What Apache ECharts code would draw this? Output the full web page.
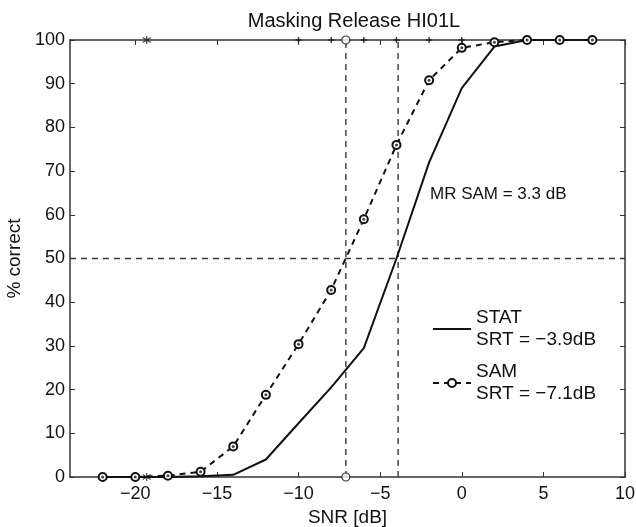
<!DOCTYPE html>
<html>
<head>
<meta charset="utf-8">
<script src="https://cdn.jsdelivr.net/npm/echarts@6/dist/echarts.min.js"></script>
<style>
  html, body { margin: 0; padding: 0; background: #fff; }
  #chart { width: 636px; height: 527px; }
</style>
</head>
<body>
<div id="chart"></div>
<script>
// SNR levels (dB) and percent correct
const snr = [-22, -20, -18, -16, -14, -12, -10, -8, -6, -4, -2, 0, 2, 4, 6, 8];
const samPct = [0, 0, 0.3, 1.2, 7, 18.8, 30.4, 42.8, 59, 76, 90.8, 98.2, 99.5, 100, 100, 100];
const statPct = [0, 0, 0, 0.2, 0.5, 4, 12.3, 20.5, 29.5, 50, 72, 89, 98.5, 100, 100, 100];
// speech reception thresholds
const srtStat = -3.9;
const srtSam = -7.1;
// trial marks along the top / bottom edge
const topMarks = [-10, -8, -6, -4, -2, 0];
const starMarks = [[-19.3, 100], [-19.3, 0]];
const xTicks = [-20, -15, -10, -5, 0, 5, 10];
const yTicks = [0, 10, 20, 30, 40, 50, 60, 70, 80, 90, 100];

const font = '"Liberation Sans", Arial, sans-serif';
const ink = '#111';
const axisCol = '#333';

const chart = echarts.init(document.getElementById('chart'));

const pairs = (xs, ys) => xs.map((x, i) => [x, ys[i]]);
const minus = v => String(v).replace('-', '\u2212');

const legendNames = {
    'STAT': 'STAT\nSRT = \u22123.9dB',
    'SAM': 'SAM\nSRT = \u22127.1dB'
};

const refLine = {
    color: '#3a3a3a',
    width: 1.4,
    type: [6, 5]
};

const option = {
    animation: false,
    backgroundColor: '#fff',
    title: {
        text: 'Masking Release HI01L',
        left: 349,
        textAlign: 'center',
        top: 6,
        textStyle: { fontFamily: font, fontSize: 20, fontWeight: 'normal', color: ink }
    },
    grid: { left: 70, right: 11, top: 40, bottom: 50, containLabel: false, outerBoundsMode: 'none' },
    legend: {
        orient: 'vertical',
        left: 427,
        top: 302,
        itemWidth: 38,
        itemHeight: 10,
        itemGap: 10,
        data: [{ name: 'STAT', itemStyle: { opacity: 0 } }, 'SAM'],
        formatter: n => legendNames[n],
        textStyle: { fontFamily: font, fontSize: 19, lineHeight: 22, color: ink }
    },
    graphic: [{
        type: 'text',
        left: 430,
        top: 186,
        style: { text: 'MR SAM = 3.3 dB', fontFamily: font, fontSize: 17, fill: ink }
    }],
    xAxis: [{
        type: 'value',
        min: -24,
        max: 10,
        name: 'SNR [dB]',
        nameLocation: 'middle',
        nameGap: 26,
        nameTextStyle: { fontFamily: font, fontSize: 19, color: ink },
        axisLine: { onZero: false, lineStyle: { color: axisCol, width: 1.5 } },
        axisTick: { inside: true, length: 5, customValues: xTicks, lineStyle: { color: axisCol } },
        axisLabel: { customValues: xTicks, formatter: minus, fontFamily: font, fontSize: 18, color: ink, margin: 8 },
        splitLine: { show: false }
    }, {
        type: 'value',
        position: 'top',
        min: -24,
        max: 10,
        axisLine: { onZero: false, lineStyle: { color: axisCol, width: 1.5 } },
        axisTick: { inside: true, length: 5, customValues: xTicks, lineStyle: { color: axisCol } },
        axisLabel: { show: false },
        splitLine: { show: false }
    }],
    yAxis: [{
        type: 'value',
        min: 0,
        max: 100,
        interval: 10,
        name: '% correct',
        nameLocation: 'middle',
        nameGap: 41,
        nameTextStyle: { fontFamily: font, fontSize: 19, color: ink },
        axisLine: { show: true, onZero: false, lineStyle: { color: axisCol, width: 1.5 } },
        axisTick: { show: true, inside: true, length: 5, customValues: yTicks, lineStyle: { color: axisCol } },
        axisLabel: { fontFamily: font, fontSize: 18, color: ink, margin: 5 },
        splitLine: { show: false }
    }, {
        type: 'value',
        position: 'right',
        min: 0,
        max: 100,
        interval: 10,
        axisLine: { show: true, onZero: false, lineStyle: { color: axisCol, width: 1.5 } },
        axisTick: { show: true, inside: true, length: 5, lineStyle: { color: axisCol } },
        axisLabel: { show: false },
        splitLine: { show: false }
    }],
    series: [
        {
            name: '50%',
            type: 'line',
            symbol: 'none',
            silent: true,
            lineStyle: refLine,
            data: [[-24, 50], [10, 50]]
        },
        {
            name: 'srt sam',
            type: 'line',
            symbol: 'none',
            silent: true,
            lineStyle: refLine,
            data: [[srtSam, 0], [srtSam, 100]]
        },
        {
            name: 'srt stat',
            type: 'line',
            symbol: 'none',
            silent: true,
            lineStyle: refLine,
            data: [[srtStat, 0], [srtStat, 100]]
        },
        {
            name: 'STAT',
            type: 'line',
            symbol: 'none',
            lineStyle: { color: ink, width: 2 },
            itemStyle: { color: ink },
            data: pairs(snr, statPct),
            z: 4
        },
        {
            name: 'SAM',
            type: 'line',
            symbol: 'circle',
            symbolSize: 8,
            lineStyle: { color: ink, width: 2, type: [6, 5] },
            itemStyle: { color: '#fff', borderColor: ink, borderWidth: 2 },
            data: pairs(snr, samPct),
            z: 5
        },
        {
            name: 'sam dots',
            type: 'scatter',
            symbol: 'circle',
            symbolSize: 3,
            silent: true,
            itemStyle: { color: ink },
            data: pairs(snr, samPct),
            z: 6
        },
        {
            name: 'srt marks',
            type: 'scatter',
            symbol: 'circle',
            symbolSize: 8,
            itemStyle: { color: '#fff', borderColor: ink, borderWidth: 1.2 },
            data: [[srtSam, 0], [srtSam, 100]],
            z: 6
        },
        {
            name: 'top marks',
            type: 'scatter',
            symbol: 'path://M0,-1L0,1M-1,0L1,0',
            symbolSize: 6,
            itemStyle: { color: 'none', borderColor: ink, borderWidth: 1.5 },
            data: topMarks.map(x => [x, 100]),
            z: 6
        },
        {
            name: 'star marks',
            type: 'scatter',
            symbol: 'path://M0,-1L0,1M-0.8,-0.6L0.8,0.6M-0.8,0.6L0.8,-0.6',
            symbolSize: 8,
            itemStyle: { color: 'none', borderColor: ink, borderWidth: 1.2 },
            data: starMarks,
            z: 6
        }
    ]
};

chart.setOption(option);
</script>
</body>
</html>
